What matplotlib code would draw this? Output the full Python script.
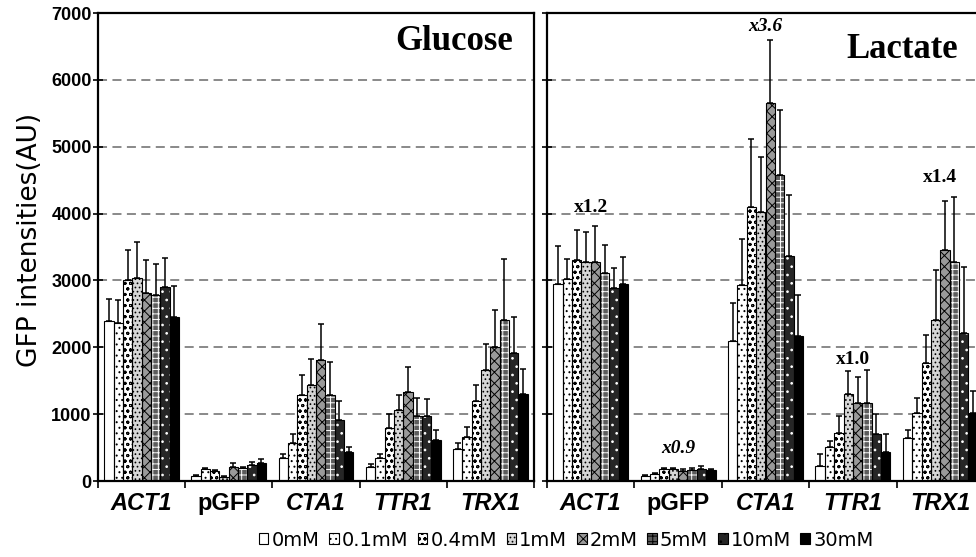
import matplotlib
matplotlib.use('Agg')
import matplotlib.pyplot as plt
import numpy as np
from matplotlib.patches import Patch

plt.rcParams['font.family'] = ['Liberation Sans', 'DejaVu Sans']
plt.rcParams['hatch.linewidth'] = 0.7

genes = ['ACT1', 'pGFP', 'CTA1', 'TTR1', 'TRX1']
conc = ['0mM', '0.1mM', '0.4mM', '1mM', '2mM', '5mM', '10mM', '30mM']

# mean values, one row per gene, one column per concentration
glu_mean = [[2400, 2360, 3010, 3035, 2810, 2775, 2900, 2450],
            [70, 175, 150, 60, 210, 190, 240, 275],
            [340, 570, 1280, 1440, 1805, 1280, 910, 440],
            [210, 340, 790, 1055, 1330, 970, 970, 610],
            [480, 655, 1195, 1665, 2000, 2410, 1915, 1305]]
# top of the error bar
glu_top = [[2725, 2710, 3450, 3580, 3310, 3240, 3340, 2910],
           [90, 190, 165, 75, 275, 215, 290, 325],
           [400, 700, 1580, 1830, 2350, 1780, 1190, 510],
           [250, 400, 1000, 1290, 1700, 1240, 1220, 770],
           [570, 805, 1430, 2050, 2560, 3325, 2450, 1675]]

lac_mean = [[2950, 3020, 3310, 3270, 3270, 3110, 2885, 2950],
            [75, 100, 175, 175, 150, 160, 175, 160],
            [2100, 2925, 4100, 4030, 5655, 4575, 3370, 2165],
            [225, 510, 720, 1295, 1170, 1170, 705, 440],
            [645, 1010, 1765, 2410, 3460, 3270, 2215, 1010]]
lac_top = [[3520, 3320, 3755, 3730, 3820, 3530, 3185, 3350],
           [90, 120, 200, 195, 175, 200, 225, 180],
           [2660, 3620, 5115, 4840, 6590, 5545, 4280, 2785],
           [400, 605, 970, 1640, 1550, 1665, 1005, 700],
           [770, 1245, 2190, 3160, 4195, 4250, 3200, 1345]]

fold_labels = ['x1.2', 'x0.9', 'x3.6', 'x1.0', 'x1.4']
fold_y = [4090, 490, 6800, 1820, 4540]
fold_italic = [False, True, True, False, False]

# face colour, hatch, hatch colour
styles = [('white', '', 'black'),
          ('white', '...', 'black'),
          ('white', 'ooo', 'black'),
          ('#d6d6d6', '....', 'black'),
          ('#9a9a9a', 'xxx', 'black'),
          ('#5c5c5c', '+++', 'white'),
          ('#262626', '..', 'white'),
          ('black', '', 'white')]


def draw(ax, means, tops):
    means = np.array(means)
    tops = np.array(tops)
    x = np.arange(len(genes)) + 0.5
    w = 0.107
    for i, (fc, hatch, hc) in enumerate(styles):
        pos = x + (i - 3.5) * w
        ax.bar(pos, means[:, i], w, color=fc, hatch=hatch, edgecolor=hc, linewidth=0, zorder=2)
        ax.bar(pos, means[:, i], w, fill=False, edgecolor='black', linewidth=0.8, zorder=3)
        ax.errorbar(pos, means[:, i], yerr=[np.zeros(len(genes)), tops[:, i] - means[:, i]],
                    fmt='none', ecolor='black', elinewidth=1.1, capsize=2.5, capthick=1.1, zorder=4)
    ax.set_xlim(0, 5)
    ax.set_ylim(0, 7000)
    ax.set_yticks(range(0, 7001, 1000))
    ax.yaxis.grid(True, linestyle=(0, (5, 3)), color='#808080', linewidth=1.3)
    ax.set_axisbelow(True)
    ax.set_xticks(x)
    ax.set_xticklabels(genes)
    for lab, g in zip(ax.get_xticklabels(), genes):
        lab.set_fontsize(17)
        lab.set_fontweight('bold')
        lab.set_fontstyle('normal' if g == 'pGFP' else 'italic')
    ax.set_xticks(np.arange(0, 6), minor=True)
    ax.tick_params(axis='x', which='major', length=0, pad=8)
    ax.tick_params(axis='x', which='minor', length=5, width=1.2, direction='out')
    ax.tick_params(axis='y', direction='inout', length=7, width=1.2, pad=1)
    for s in ax.spines.values():
        s.set_linewidth(1.6)


fig = plt.figure(figsize=(9.76, 5.57), dpi=100)
ax1 = fig.add_axes([98 / 976, 76 / 557, 436 / 976, 468 / 557])
ax2 = fig.add_axes([547 / 976, 76 / 557, 437 / 976, 468 / 557])

draw(ax1, glu_mean, glu_top)
draw(ax2, lac_mean, lac_top)

for lab in ax1.get_yticklabels():
    lab.set_fontsize(13)
    lab.set_fontweight('bold')
ax2.set_yticklabels([])

ax1.text(0.817, 0.921, 'Glucose', transform=ax1.transAxes, ha='center', va='baseline',
         family='Liberation Serif', fontweight='bold', fontsize=25)
ax2.text(0.812, 0.904, 'Lactate', transform=ax2.transAxes, ha='center', va='baseline',
         family='Liberation Serif', fontweight='bold', fontsize=25)

for i, (t, yv, it) in enumerate(zip(fold_labels, fold_y, fold_italic)):
    ax2.text(i + 0.5, yv, t, ha='center', va='center', family='Liberation Serif',
             fontweight='bold', fontstyle='italic' if it else 'normal', fontsize=14)

fig.text(30 / 976, 1 - 240 / 557, 'GFP intensities(AU)', rotation=90, ha='center', va='center',
         family='DejaVu Sans', fontsize=19)

handles = [Patch(facecolor=fc, hatch=h, edgecolor='black', linewidth=0.8) for fc, h, hc in styles]
fig.legend(handles, conc, loc='center', bbox_to_anchor=(566 / 976, 17 / 557), ncol=8, frameon=False,
           handlelength=0.5, handleheight=0.5, handletextpad=0.15, columnspacing=0.5,
           borderaxespad=0, borderpad=0, prop=dict(family='DejaVu Sans', size=14))

fig.savefig('out.png', dpi=100)
